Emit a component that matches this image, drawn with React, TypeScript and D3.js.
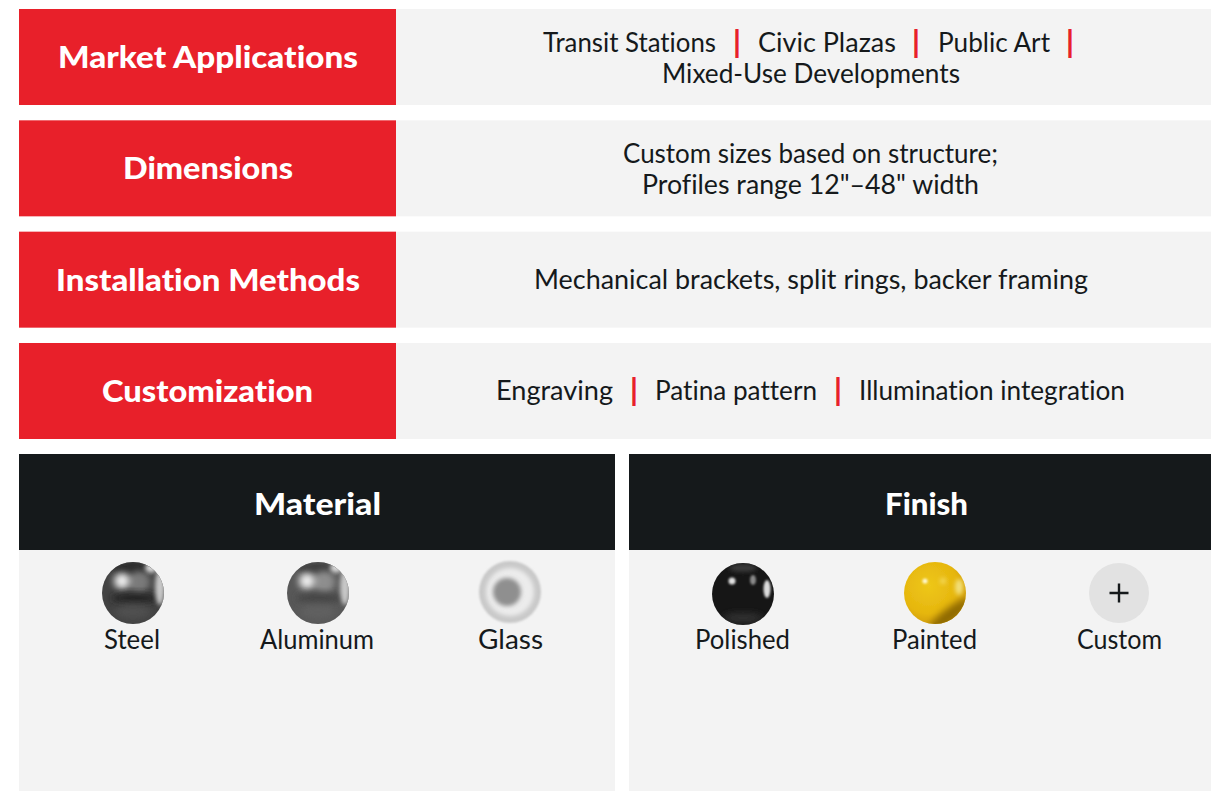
import React from "react";
import * as d3 from "d3";

const rowLabels = ["Market Applications", "Dimensions", "Installation Methods", "Customization"];
const rowTitleSpans = [[58, 358], [123, 293], [56, 360], [102, 313]];
const rowContent = [
  [["Transit Stations", "|", "Civic Plazas", "|", "Public Art", "|"], ["Mixed-Use Developments"]],
  [["Custom sizes based on structure;"], ['Profiles range 12"–48" width']],
  [["Mechanical brackets, split rings, backer framing"]],
  [["Engraving", "|", "Patina pattern", "|", "Illumination integration"]],
];
const rowContentSpans = [
  [[[543, 716], [737, 737], [758, 896], [916, 916], [938, 1050], [1070, 1070]], [[662, 960]]],
  [[[623, 998]], [[642, 979]]],
  [[[534, 1088]]],
  [[[496, 613], [634, 634], [655, 817], [838, 838], [859, 1125]]],
];
const materials = ["Steel", "Aluminum", "Glass"];
const finishes = ["Polished", "Painted", "Custom"];
const panelTitles = ["Material", "Finish"];
const panelTitleSpans = [[254, 381], [885, 968]];
const labelSpans: Record<string, number[]> = {
  Steel: [104, 160], Aluminum: [260, 374], Glass: [478, 543],
  Polished: [695, 790], Painted: [892, 977], Custom: [1077, 1162],
};
const sphereCenters: Record<string, number[]> = {
  Steel: [133, 593], Aluminum: [318, 593], Glass: [510, 592],
  Polished: [743, 594], Painted: [935, 593], Custom: [1119, 593],
};

const RED = "#e8202a";
const PANEL = "#f3f3f3";
const DARK = "#15191b";
const FONT = "Lato, 'Noto Sans', sans-serif";

const rowY = d3.scaleBand<string>().domain(rowLabels).range([9, 439]).paddingInner(15.33 / 111.33);

function Fit({ span, y, children, size, weight, fill }: any) {
  const [a, b] = span;
  const style = { fontVariantLigatures: "none", fontFeatureSettings: "'liga' 0, 'clig' 0" } as any;
  if (a === b) {
    return <text x={a} y={y + 1} fontSize={size + 3} textAnchor="middle" fontWeight={900} fill={RED} fontFamily={FONT} style={style}>{children}</text>;
  }
  return (
    <text x={a} y={y} fontSize={size} fontWeight={weight} fill={fill} fontFamily={FONT} style={style}
      textLength={b - a} lengthAdjust="spacingAndGlyphs">{children}</text>
  );
}

function Sphere({ name }: { name: string }) {
  const [cx, cy] = sphereCenters[name];
  const r = 31;
  const clip = `url(#clip-${name})`;
  const defs = <clipPath id={`clip-${name}`}><circle cx={cx} cy={cy} r={r} /></clipPath>;
  if (name === "Custom") {
    return (
      <g>
        <circle cx={cx} cy={cy} r={30} fill="#e2e2e2" />
        <path d={`M${cx - 9.5},${cy}H${cx + 9.5}M${cx},${cy - 9.5}V${cy + 9.5}`} stroke={DARK} strokeWidth={2.4} />
      </g>
    );
  }
  if (name === "Glass") {
    return (
      <g>
        {defs}
        <circle cx={cx} cy={cy} r={r} fill="#c9c9c9" filter="url(#b1)" />
        <g clipPath={clip}>
          <circle cx={cx} cy={cy} r={24} fill="#ececec" filter="url(#b2)" />
          <circle cx={cx - 3} cy={cy} r={14} fill="#8f8f8f" filter="url(#b2)" />
        </g>
      </g>
    );
  }
  if (name === "Painted") {
    return (
      <g>
        {defs}
        <circle cx={cx} cy={cy} r={r} fill="url(#gPaint)" filter="url(#b05)" />
        <g clipPath={clip}>
          <ellipse cx={cx + 14} cy={cy + 23} rx={26} ry={7} transform={`rotate(-38 ${cx + 14} ${cy + 23})`} fill="#8f6a02" filter="url(#b3)" />
          <ellipse cx={cx + 24} cy={cy - 6} rx={4} ry={8} fill="#f3e07c" filter="url(#b2)" />
          <circle cx={cx - 10} cy={cy - 12} r={2.6} fill="#fff8cf" filter="url(#b1)" />
          <circle cx={cx + 8} cy={cy - 12} r={3} fill="#f4d95a" filter="url(#b2)" />
        </g>
      </g>
    );
  }
  if (name === "Polished") {
    return (
      <g>
        {defs}
        <circle cx={cx} cy={cy} r={r} fill="#161616" filter="url(#b05)" />
        <g clipPath={clip}>
          <circle cx={cx - 11} cy={cy - 13} r={3.5} fill="#e0e0e0" filter="url(#b1)" />
          <ellipse cx={cx + 10} cy={cy - 14} rx={3} ry={5} fill="#8a8a8a" filter="url(#b1)" />
          <ellipse cx={cx + 24} cy={cy - 5} rx={3.5} ry={9} fill="#dcdcdc" filter="url(#b1)" />
          <ellipse cx={cx} cy={cy + 24} rx={20} ry={5} fill="#333" filter="url(#b3)" />
          <ellipse cx={cx} cy={cy - 26} rx={14} ry={4} fill="#3a3a3a" filter="url(#b2)" />
        </g>
      </g>
    );
  }
  const light = name === "Aluminum";
  return (
    <g>
      {defs}
      <circle cx={cx} cy={cy} r={r} fill={light ? "#585858" : "#424242"} filter="url(#b05)" />
      <g clipPath={clip}>
        <ellipse cx={cx} cy={cy - 24} rx={20} ry={6} fill={light ? "#3e3e3e" : "#2b2b2b"} filter="url(#b2)" />
        <circle cx={cx + 6} cy={cy - 11} r={11} fill={light ? "#8e8e8e" : "#7a7a7a"} filter="url(#b3)" />
        <circle cx={cx - 11} cy={cy - 12} r={8} fill="#eeeeee" filter="url(#b3)" />
        <ellipse cx={cx + 2} cy={cy + 5} rx={24} ry={5} fill={light ? "#444" : "#222"} filter="url(#b3)" />
        <ellipse cx={cx + 27} cy={cy - 6} rx={5} ry={18} fill="#c8c8c8" filter="url(#b2)" />
        <ellipse cx={cx + 18} cy={cy - 25} rx={6} ry={5} fill="#d8d8d8" filter="url(#b2)" />
        <ellipse cx={cx} cy={cy + 19} rx={18} ry={7} fill={light ? "#606060" : "#505050"} filter="url(#b3)" />
      </g>
    </g>
  );
}

export default function App() {
  const panels = [
    { title: panelTitles[0], x: 19, w: 596, items: materials },
    { title: panelTitles[1], x: 629, w: 582, items: finishes },
  ];
  return (
    <svg width={1211} height={791} style={{ position: "absolute", left: 0, top: 0, display: "block" }}>
      <defs>
        <filter id="b05" x="-10%" y="-10%" width="120%" height="120%"><feGaussianBlur stdDeviation="0.6" /></filter>
        <filter id="b1" x="-30%" y="-30%" width="160%" height="160%"><feGaussianBlur stdDeviation="1" /></filter>
        <filter id="b2" x="-50%" y="-50%" width="200%" height="200%"><feGaussianBlur stdDeviation="2" /></filter>
        <filter id="b3" x="-60%" y="-60%" width="220%" height="220%"><feGaussianBlur stdDeviation="3.5" /></filter>
        <radialGradient id="gPaint" cx="40%" cy="38%" r="65%">
          <stop offset="0%" stopColor="#eec71a" />
          <stop offset="70%" stopColor="#e6b60e" />
          <stop offset="100%" stopColor="#d09c06" />
        </radialGradient>
      </defs>
      {rowLabels.map((label, i) => {
        const y = rowY(label)!;
        const h = rowY.bandwidth();
        const lines = rowContent[i];
        const firstBase = lines.length === 2 ? y + 43 : y + 57.5;
        return (
          <g key={label}>
            <rect x={396} y={y} width={815} height={h} fill={PANEL} />
            <rect x={19} y={y} width={377} height={h} fill={RED} />
            <Fit span={rowTitleSpans[i]} y={y + 59} size={31} weight={900} fill="#ffffff">{label}</Fit>
            {lines.map((parts, l) =>
              parts.map((p, k) => (
                <Fit key={`${l}-${k}`} span={rowContentSpans[i][l][k]} y={firstBase + l * 31} size={27} weight={400} fill={DARK}>{p}</Fit>
              ))
            )}
          </g>
        );
      })}
      {panels.map((p, i) => (
        <g key={p.title}>
          <rect x={p.x} y={550} width={p.w} height={241} fill={PANEL} />
          <rect x={p.x} y={454} width={p.w} height={96} fill={DARK} />
          <Fit span={panelTitleSpans[i]} y={515} size={31} weight={900} fill="#ffffff">{p.title}</Fit>
          {p.items.map((name) => (
            <g key={name}>
              <Sphere name={name} />
              <Fit span={labelSpans[name]} y={649} size={26} weight={400} fill={DARK}>{name}</Fit>
            </g>
          ))}
        </g>
      ))}
    </svg>
  );
}
